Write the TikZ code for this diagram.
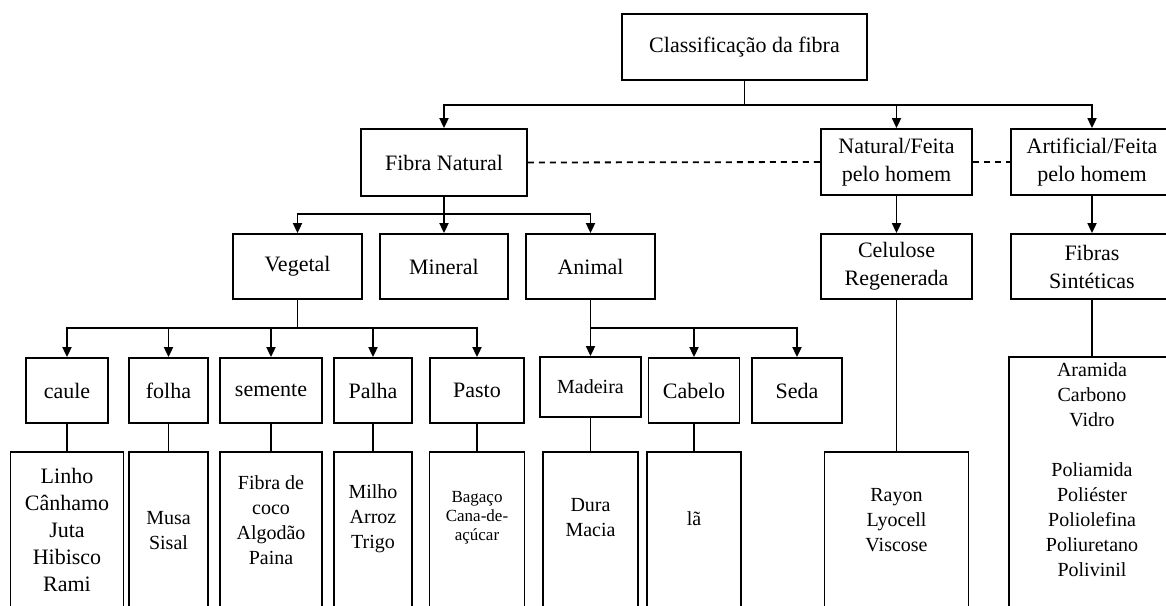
\documentclass[tikz,border=0pt]{standalone}
\usepackage{fontspec}
\setmainfont{Liberation Serif}
\usetikzlibrary{arrows.meta}

\begin{document}
\begin{tikzpicture}[x=1pt, y=-1pt, line width=1.8pt, >={Triangle[length=10pt,width=9pt]},
	box/.style={draw, inner sep=0pt, align=center, minimum height=65, font=\fontsize{22}{28}\selectfont},
	leaf/.style={draw, inner sep=0pt, minimum height=188},
	leaftxt/.style={align=center, inner sep=0pt, font=\fontsize{20}{25}\selectfont}]
	\useasboundingbox (0, 0) rectangle (1166, 605);
	\clip (0, 0) rectangle (1166, 605);

	\node[box, minimum width=245, minimum height=66]	(0)	at (744.5, 47) {Classificação da fibra};
	\coordinate (0j) at (744.5, 105);

	\node[box, minimum width=166, minimum height=67]	(1)	at (444, 162.5) {Fibra Natural};
	\node[box, minimum width=151, minimum height=66]	(2)	at (896.5, 162) {Natural/Feita\\pelo homem};
	\node[box, minimum width=162, minimum height=66]	(3)	at (1092, 162) {Artificial/Feita\\pelo homem};
	\draw[] (0) -- (0j);
	\draw[->] (0j) -| (1);
	\draw[->] (0j) -| (2);
	\draw[->] (0j) -| (3);
	\draw[dash pattern=on 6pt off 5pt] (1.east) -- (2.west);
	\draw[dash pattern=on 6pt off 5pt] (2.east) -- (3.west);

	% fibra natural
	\node[box, minimum width=129]	(11) at (297.5, 266.5) {Vegetal};
	\node[box, minimum width=128]	(12) at (444, 266.5) {Mineral};
	\node[box, minimum width=129]	(13) at (590.5, 266.5) {Animal};
	\coordinate (1j) at (444, 214);
	\draw[] (1) -- (1j);
	\draw[->] (1j) -| (11);
	\draw[->] (1j) -- (12);
	\draw[->] (1j) -| (13);

	\node[box, minimum width=82]	(111) at (67, 390.5) {caule};
	\node[box, minimum width=79]	(112) at (168.5, 390.5) {folha};
	\node[box, minimum width=102]	(113) at (271, 390.5) {semente};
	\node[box, minimum width=78]	(114) at (373, 390.5) {Palha};
	\node[box, minimum width=94]	(115) at (477, 390.5) {Pasto};
	\coordinate (11j) at (297.5, 328);
	\draw[] (11) -- (11j);
	\foreach \n in {111, 112, 113, 114, 115}
		\draw[->] (11j) -| (\n);

	\node[box, minimum width=101, minimum height=60, font=\fontsize{20}{25}\selectfont]	(131) at (590.5, 387) {Madeira};
	\node[box, minimum width=91]	(132) at (694, 390.5) {Cabelo};
	\node[box, minimum width=90]	(133) at (797, 390.5) {Seda};
	\coordinate (13j) at (590.5, 328);
	\draw[] (13) -- (13j);
	\draw[->] (13j) -- (131);
	\draw[->] (13j) -| (132);
	\draw[->] (13j) -| (133);

	\node[leaf, minimum width=113, label={[leaftxt, font=\fontsize{22}{27}\selectfont, yshift=16]center:{Linho\\Cânhamo\\Juta\\Hibisco\\Rami}}]	(1111) at (67, 546) {};
	\node[leaf, minimum width=79, label={[leaftxt, yshift=15]center:{Musa\\Sisal}}]	(1121) at (168.5, 546) {};
	\node[leaf, minimum width=102, label={[leaftxt, yshift=26]center:{Fibra de\\coco\\Algodão\\Paina}}]	(1131) at (271, 546) {};
	\node[leaf, minimum width=78, label={[leaftxt, yshift=27]center:{Milho\\Arroz\\Trigo}}]	(1141) at (373, 546) {};
	\node[leaf, minimum width=95, label={[leaftxt, font=\fontsize{17}{19}\selectfont, yshift=28]center:{Bagaço\\Cana-de-\\açúcar}}]	(1151) at (477, 546) {};
	\node[leaf, minimum width=95, label={[leaftxt, yshift=28]center:{Dura\\Macia}}]	(1311) at (590.5, 546) {};
	\node[leaf, minimum width=94, label={[leaftxt, yshift=27]center:{lã}}]	(1321) at (694, 546) {};
	\foreach \n in {111, 112, 113, 114, 115, 131, 132}
		\draw[] (\n) -- (\n1);

	% feita pelo homem
	\node[box, minimum width=151]	(21) at (896.5, 266.5) {Celulose\\Regenerada};
	\node[box, minimum width=162]	(31) at (1092, 266.5) {Fibras\\Sintéticas};
	\draw[->] (2) -- (21);
	\draw[->] (3) -- (31);

	\node[leaf, minimum width=144, label={[leaftxt, yshift=26]center:{Rayon\\Lyocell\\Viscose}}]	(211) at (896.5, 546) {};
	\node[leaf, minimum width=166, minimum height=283, label={[leaftxt, yshift=28.5]center:{Aramida\\Carbono\\Vidro\\[25pt]Poliamida\\Poliéster\\Poliolefina\\Poliuretano\\Polivinil}}]	(311) at (1092, 498.5) {};
	\draw[] (21) -- (211);
	\draw[] (31) -- (311);
\end{tikzpicture}
\end{document}
